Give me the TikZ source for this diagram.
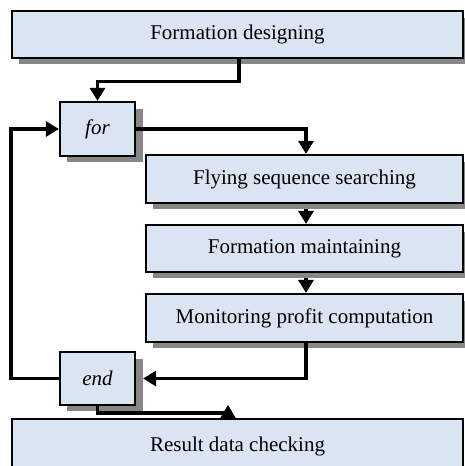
\documentclass[tikz,border=0pt]{standalone}
\usepackage{fontspec}
\setmainfont{Liberation Serif}
\usetikzlibrary{arrows.meta,calc,backgrounds}
\definecolor{boxfill}{RGB}{219,228,242}
\definecolor{shadowgray}{RGB}{135,135,135}
\tikzset{
  procbox/.style={draw=black, line width=2.2pt, fill=boxfill, rectangle, inner sep=0pt,
    font=\fontsize{21}{25}\selectfont},
  shadowfill/.style={fill=shadowgray},
  conn/.style={line width=3.2pt},
  arr/.style={line width=3.2pt, -{Triangle[length=13pt,width=15pt]}},
}
\begin{document}
\begin{tikzpicture}[x=1pt,y=-1pt]
\useasboundingbox (0,0) rectangle (464,466);
\node[procbox, minimum width=451pt, minimum height=47pt] (top) at (237.5,34.5) {Formation designing};
\node[procbox, minimum width=75pt, minimum height=54pt] (for) at (97.5,129) {\itshape for};
\node[procbox, minimum width=317pt, minimum height=48pt] (fly) at (304.5,179) {Flying sequence searching};
\node[procbox, minimum width=317pt, minimum height=47pt] (fm) at (304.5,248.5) {Formation maintaining};
\node[procbox, minimum width=317pt, minimum height=48pt] (mon) at (304.5,318) {Monitoring profit computation};
\node[procbox, minimum width=75pt, minimum height=53pt] (end) at (97.5,378.5) {\itshape end};
\node[procbox, minimum width=451pt, minimum height=55pt] (res) at (237.5,446.5) {Result data checking};
\begin{scope}[on background layer]
\foreach \n in {top,for,fly,fm,mon,end}{
  \fill[shadowfill] ($(\n.south west)+(8,5)$) rectangle ($(\n.north east)+(7,8)$);
}
\end{scope}
\coordinate (c) at (228,413);
\draw[arr] ([xshift=1.5pt]top.south) -- ++(0,22) -| (for.north);
\draw[arr] (for.east) -| ([xshift=1.5pt]fly.north);
\draw[arr] ([xshift=1.5pt,yshift=-5pt]fly.south) -- ([xshift=1.5pt]fm.north);
\draw[arr] ([xshift=1.5pt,yshift=-5pt]fm.south) -- ([xshift=1.5pt]mon.north);
\draw[arr, shorten >=7pt] ([xshift=1.5pt]mon.south) |- (end.east);
\draw[arr] (end.west) -- ++(-48,0) |- (for.west);
\draw[conn] (end.south) |- (c);
\draw[-{Triangle[length=13pt,width=15pt]}, line width=1pt] (c |- res.north) -- ++(0,-13);
\end{tikzpicture}
\end{document}
